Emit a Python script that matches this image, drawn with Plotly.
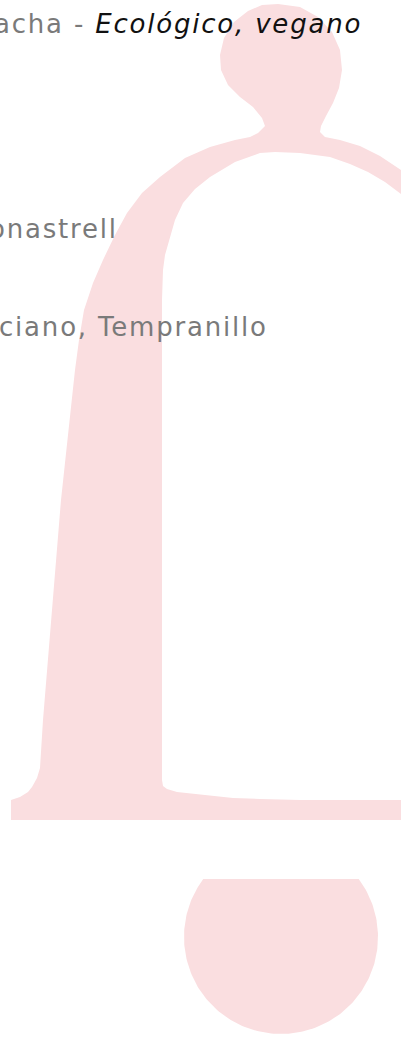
import numpy as np
import plotly.graph_objects as go

# ---- content ----
text_lines = ["acha - ", "onastrell", "ciano, Tempranillo"]
italic_tail = "Ecológico, vegano"

# decorative "!" glyph outline (page pixel coordinates, y down)
glyph_x = [278, 300, 318, 332, 340, 342, 339, 333, 326, 321, 320, 325, 340, 360, 380, 401,
           401, 385, 368, 350, 330, 300, 275, 260, 235, 210, 195, 183, 175, 170, 165, 163, 162, 162,
           163, 167, 177, 205, 233, 260, 300, 401,
           401, 11, 11, 20, 28, 32, 37, 40, 41, 43, 61, 75, 79, 84, 93, 103, 115, 127, 142, 160, 185,
           210, 235, 250, 258, 265, 262, 253, 240, 228, 221, 220, 224, 234, 248, 262]
glyph_y = [4, 7, 17, 32, 50, 70, 88, 103, 116, 126, 132, 137, 140, 146, 156, 170,
           194, 182, 172, 164, 157, 153, 152, 153, 162, 177, 189, 203, 220, 237, 255, 270, 300, 780,
           786, 789, 792, 795, 798, 799, 800, 800,
           820, 820, 800, 797, 792, 787, 778, 768, 755, 720, 500, 370, 340, 310, 283, 260, 235, 213, 193, 177, 158,
           147, 140, 137, 133, 126, 118, 107, 97, 85, 70, 55, 38, 22, 11, 5]
dot_center = (281, 937)
dot_radius = 97
dot_cut_y = 879

W, H = 401, 1037
PINK = "#FADEE0"
GREY = "#7a7a7a"
BLACK = "#111111"
FONT = "DejaVu Sans"
SP = "letter-spacing:1.8px"

fig = go.Figure()

fig.add_trace(go.Scatter(x=glyph_x, y=glyph_y, mode="lines", fill="toself",
                         fillcolor=PINK, line=dict(width=0, color=PINK),
                         hoverinfo="skip", showlegend=False))

# dot, cut flat at the top
cx, cy = dot_center
dy = cy - dot_cut_y
a0 = np.arcsin(dy / dot_radius)
ang = np.linspace(-a0, np.pi + a0, 200)
dx_ = cx + dot_radius * np.cos(ang)
dy_ = cy + dot_radius * np.sin(ang)
fig.add_trace(go.Scatter(x=list(dx_) + [dx_[0]], y=list(dy_) + [dy_[0]], mode="lines",
                         fill="toself", fillcolor=PINK, line=dict(width=0, color=PINK),
                         hoverinfo="skip", showlegend=False))

fs = 26
def px(x):
    return x / W
def py(y):
    return 1 - y / H

fig.add_annotation(x=px(364), y=py(24), xref="paper", yref="paper", xanchor="right",
                   yanchor="middle", showarrow=False,
                   text=f'<span style="color:{GREY};{SP}">{text_lines[0]}</span>'
                        f'<span style="color:{BLACK};{SP}"><i>{italic_tail}</i></span>',
                   font=dict(family=FONT, size=fs, color=GREY))
fig.add_annotation(x=px(120), y=py(229), xref="paper", yref="paper", xanchor="right",
                   yanchor="middle", showarrow=False,
                   text=f'<span style="{SP}">{text_lines[1]}</span>',
                   font=dict(family=FONT, size=fs, color=GREY))
fig.add_annotation(x=px(270), y=py(327), xref="paper", yref="paper", xanchor="right",
                   yanchor="middle", showarrow=False,
                   text=f'<span style="{SP}">{text_lines[2]}</span>',
                   font=dict(family=FONT, size=fs, color=GREY))

fig.update_xaxes(range=[0, W], visible=False, fixedrange=True)
fig.update_yaxes(range=[H, 0], visible=False, fixedrange=True)
fig.update_layout(width=W, height=H, margin=dict(l=0, r=0, t=0, b=0),
                  paper_bgcolor="white", plot_bgcolor="white", showlegend=False)

fig.write_html("out.html", config={"displayModeBar": False},
               post_script="document.body.style.margin='0';document.body.style.overflow='hidden';")
